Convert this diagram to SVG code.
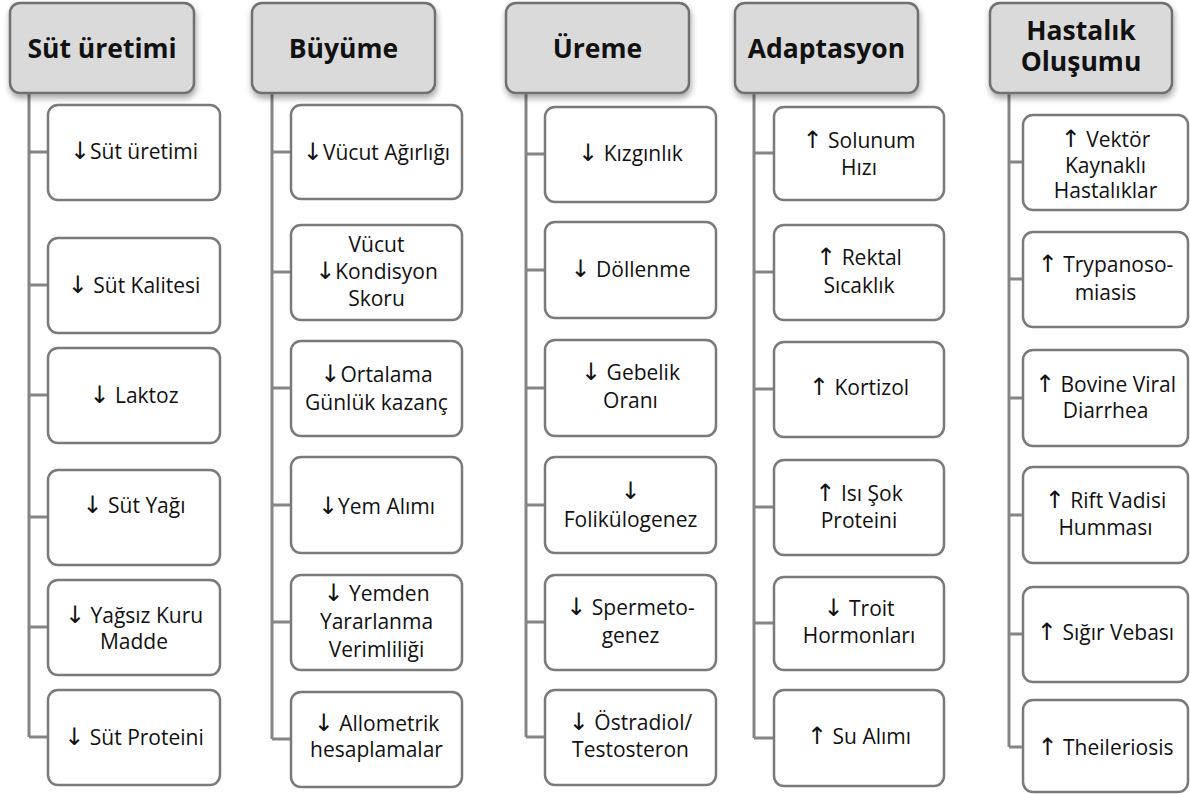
<svg xmlns="http://www.w3.org/2000/svg" width="1190" height="794" viewBox="0 0 1190 794">
<defs>
<filter id="sh" x="-10%" y="-10%" width="125%" height="135%">
<feDropShadow dx="1" dy="4" stdDeviation="3" flood-color="#000" flood-opacity="0.35"/>
</filter>
</defs>
<style>
.hd{fill:#dadada;stroke:#707070;stroke-width:2.5;filter:url(#sh)}
.bx{fill:#fff;stroke:#7a7a7a;stroke-width:2.5}
.ht{font-family:"Open Sans","DejaVu Sans",sans-serif;font-weight:bold;font-size:26.5px;fill:#111;text-anchor:middle}
.t{font-family:"Open Sans","DejaVu Sans",sans-serif;font-size:21px;fill:#111;text-anchor:middle}
.ar{font-size:24px}
.c{stroke:#858585;stroke-width:3;fill:none}
</style>
<rect width="1190" height="794" fill="#fff"/>
<g id="connectors">
<path class="c" d="M29,93V737M29,152H48M29,285H48M29,395H48M29,517H48M29,627H48M29,737H48"/>
<path class="c" d="M272,93V739M272,152H291M272,272H291M272,388H291M272,505H291M272,622H291M272,739H291"/>
<path class="c" d="M526,93V737M526,154H545M526,270H545M526,388H545M526,505H545M526,622H545M526,737H545"/>
<path class="c" d="M754,93V738M754,153H774M754,272H774M754,389H774M754,507H774M754,623H774M754,738H774"/>
<path class="c" d="M1009,93V747M1009,162H1023M1009,279H1023M1009,398H1023M1009,515H1023M1009,634H1023M1009,747H1023"/>
</g>
<g id="h1"><rect class="hd" x="10" y="3" width="184" height="90" rx="10"/><text class="ht" x="102" y="58">Süt üretimi</text></g>
<g id="h2"><rect class="hd" x="252" y="3" width="183" height="90" rx="10"/><text class="ht" x="343.5" y="58">Büyüme</text></g>
<g id="h3"><rect class="hd" x="506" y="3" width="183" height="90" rx="10"/><text class="ht" x="597.5" y="58">Üreme</text></g>
<g id="h4"><rect class="hd" x="735" y="3" width="183" height="90" rx="10"/><text class="ht" x="826.5" y="58">Adaptasyon</text></g>
<g id="h5"><rect class="hd" x="990" y="3" width="182" height="90" rx="10"/><text class="ht" x="1081" y="40">Hastalık<tspan x="1081" dy="31">Oluşumu</tspan></text></g>

<g id="n1a"><rect class="bx" x="48" y="105" width="172" height="95" rx="10"/><text class="t" x="134" y="159"><tspan class="ar">↓</tspan>Süt üretimi</text></g>
<g id="n1b"><rect class="bx" x="48" y="238" width="172" height="95" rx="10"/><text class="t" x="134" y="293"><tspan class="ar">↓</tspan> Süt Kalitesi</text></g>
<g id="n1c"><rect class="bx" x="48" y="348" width="172" height="95" rx="10"/><text class="t" x="134" y="403"><tspan class="ar">↓</tspan> Laktoz</text></g>
<g id="n1d"><rect class="bx" x="48" y="470" width="172" height="95" rx="10"/><text class="t" x="134" y="513"><tspan class="ar">↓</tspan> Süt Yağı</text></g>
<g id="n1e"><rect class="bx" x="48" y="580" width="172" height="95" rx="10"/><text class="t" x="134" y="623"><tspan class="ar">↓</tspan> Yağsız Kuru<tspan x="134" dy="26">Madde</tspan></text></g>
<g id="n1f"><rect class="bx" x="48" y="690" width="172" height="95" rx="10"/><text class="t" x="134" y="745"><tspan class="ar">↓</tspan> Süt Proteini</text></g>

<g id="n2a"><rect class="bx" x="291" y="105" width="171" height="94" rx="10"/><text class="t" x="376.5" y="160"><tspan class="ar">↓</tspan>Vücut Ağırlığı</text></g>
<g id="n2b"><rect class="bx" x="291" y="225" width="171" height="95" rx="10"/><text class="t" x="376.5" y="252">Vücut<tspan x="376.5" dy="27"><tspan class="ar">↓</tspan>Kondisyon</tspan><tspan x="376.5" dy="27">Skoru</tspan></text></g>
<g id="n2c"><rect class="bx" x="291" y="341" width="171" height="95" rx="10"/><text class="t" x="376.5" y="382"><tspan class="ar">↓</tspan>Ortalama<tspan x="376.5" dy="28">Günlük kazanç</tspan></text></g>
<g id="n2d"><rect class="bx" x="291" y="457" width="171" height="96" rx="10"/><text class="t" x="376.5" y="514"><tspan class="ar">↓</tspan>Yem Alımı</text></g>
<g id="n2e"><rect class="bx" x="291" y="575" width="171" height="95" rx="10"/><text class="t" x="376.5" y="601"><tspan class="ar">↓</tspan> Yemden<tspan x="376.5" dy="28">Yararlanma</tspan><tspan x="376.5" dy="28">Verimliliği</tspan></text></g>
<g id="n2f"><rect class="bx" x="291" y="692" width="171" height="95" rx="10"/><text class="t" x="376.5" y="731"><tspan class="ar">↓</tspan> Allometrik<tspan x="376.5" dy="26">hesaplamalar</tspan></text></g>

<g id="n3a"><rect class="bx" x="545" y="107" width="171" height="95" rx="10"/><text class="t" x="630.5" y="161"><tspan class="ar">↓</tspan> Kızgınlık</text></g>
<g id="n3b"><rect class="bx" x="545" y="222" width="171" height="96" rx="10"/><text class="t" x="630.5" y="277"><tspan class="ar">↓</tspan> Döllenme</text></g>
<g id="n3c"><rect class="bx" x="545" y="340" width="171" height="96" rx="10"/><text class="t" x="630.5" y="380"><tspan class="ar">↓</tspan> Gebelik<tspan x="630.5" dy="28">Oranı</tspan></text></g>
<g id="n3d"><rect class="bx" x="545" y="457" width="171" height="96" rx="10"/><text class="t" x="630.5" y="499"><tspan class="ar">↓</tspan><tspan x="630.5" dy="28">Folikülogenez</tspan></text></g>
<g id="n3e"><rect class="bx" x="545" y="575" width="171" height="95" rx="10"/><text class="t" x="630.5" y="615"><tspan class="ar">↓</tspan> Spermeto-<tspan x="630.5" dy="28">genez</tspan></text></g>
<g id="n3f"><rect class="bx" x="545" y="690" width="171" height="95" rx="10"/><text class="t" x="630.5" y="730"><tspan class="ar">↓</tspan> Östradiol/<tspan x="630.5" dy="27">Testosteron</tspan></text></g>

<g id="n4a"><rect class="bx" x="774" y="107" width="170" height="93" rx="10"/><text class="t" x="859" y="148"><tspan class="ar">↑</tspan> Solunum<tspan x="859" dy="27">Hızı</tspan></text></g>
<g id="n4b"><rect class="bx" x="774" y="225" width="170" height="95" rx="10"/><text class="t" x="859" y="265"><tspan class="ar">↑</tspan> Rektal<tspan x="859" dy="28">Sıcaklık</tspan></text></g>
<g id="n4c"><rect class="bx" x="774" y="342" width="170" height="95" rx="10"/><text class="t" x="859" y="395"><tspan class="ar">↑</tspan> Kortizol</text></g>
<g id="n4d"><rect class="bx" x="774" y="460" width="170" height="95" rx="10"/><text class="t" x="859" y="501"><tspan class="ar">↑</tspan> Isı Şok<tspan x="859" dy="27">Proteini</tspan></text></g>
<g id="n4e"><rect class="bx" x="774" y="577" width="170" height="93" rx="10"/><text class="t" x="859" y="616"><tspan class="ar">↓</tspan> Troit<tspan x="859" dy="27">Hormonları</tspan></text></g>
<g id="n4f"><rect class="bx" x="774" y="690" width="170" height="96" rx="10"/><text class="t" x="859" y="744"><tspan class="ar">↑</tspan> Su Alımı</text></g>

<g id="n5a"><rect class="bx" x="1023" y="115" width="165" height="95" rx="10"/><text class="t" x="1105.5" y="147"><tspan class="ar">↑</tspan> Vektör<tspan x="1105.5" dy="26">Kaynaklı</tspan><tspan x="1105.5" dy="25">Hastalıklar</tspan></text></g>
<g id="n5b"><rect class="bx" x="1023" y="232" width="165" height="95" rx="10"/><text class="t" x="1105.5" y="272"><tspan class="ar">↑</tspan> Trypanoso-<tspan x="1105.5" dy="28">miasis</tspan></text></g>
<g id="n5c"><rect class="bx" x="1023" y="350" width="165" height="96" rx="10"/><text class="t" x="1105.5" y="392"><tspan class="ar">↑</tspan> Bovine Viral<tspan x="1105.5" dy="26">Diarrhea</tspan></text></g>
<g id="n5d"><rect class="bx" x="1023" y="467" width="165" height="96" rx="10"/><text class="t" x="1105.5" y="508"><tspan class="ar">↑</tspan> Rift Vadisi<tspan x="1105.5" dy="27">Humması</tspan></text></g>
<g id="n5e"><rect class="bx" x="1023" y="587" width="165" height="95" rx="10"/><text class="t" x="1105.5" y="640"><tspan class="ar">↑</tspan> Sığır Vebası</text></g>
<g id="n5f"><rect class="bx" x="1023" y="700" width="165" height="92" rx="10"/><text class="t" x="1105.5" y="755"><tspan class="ar">↑</tspan> Theileriosis</text></g>
</svg>
